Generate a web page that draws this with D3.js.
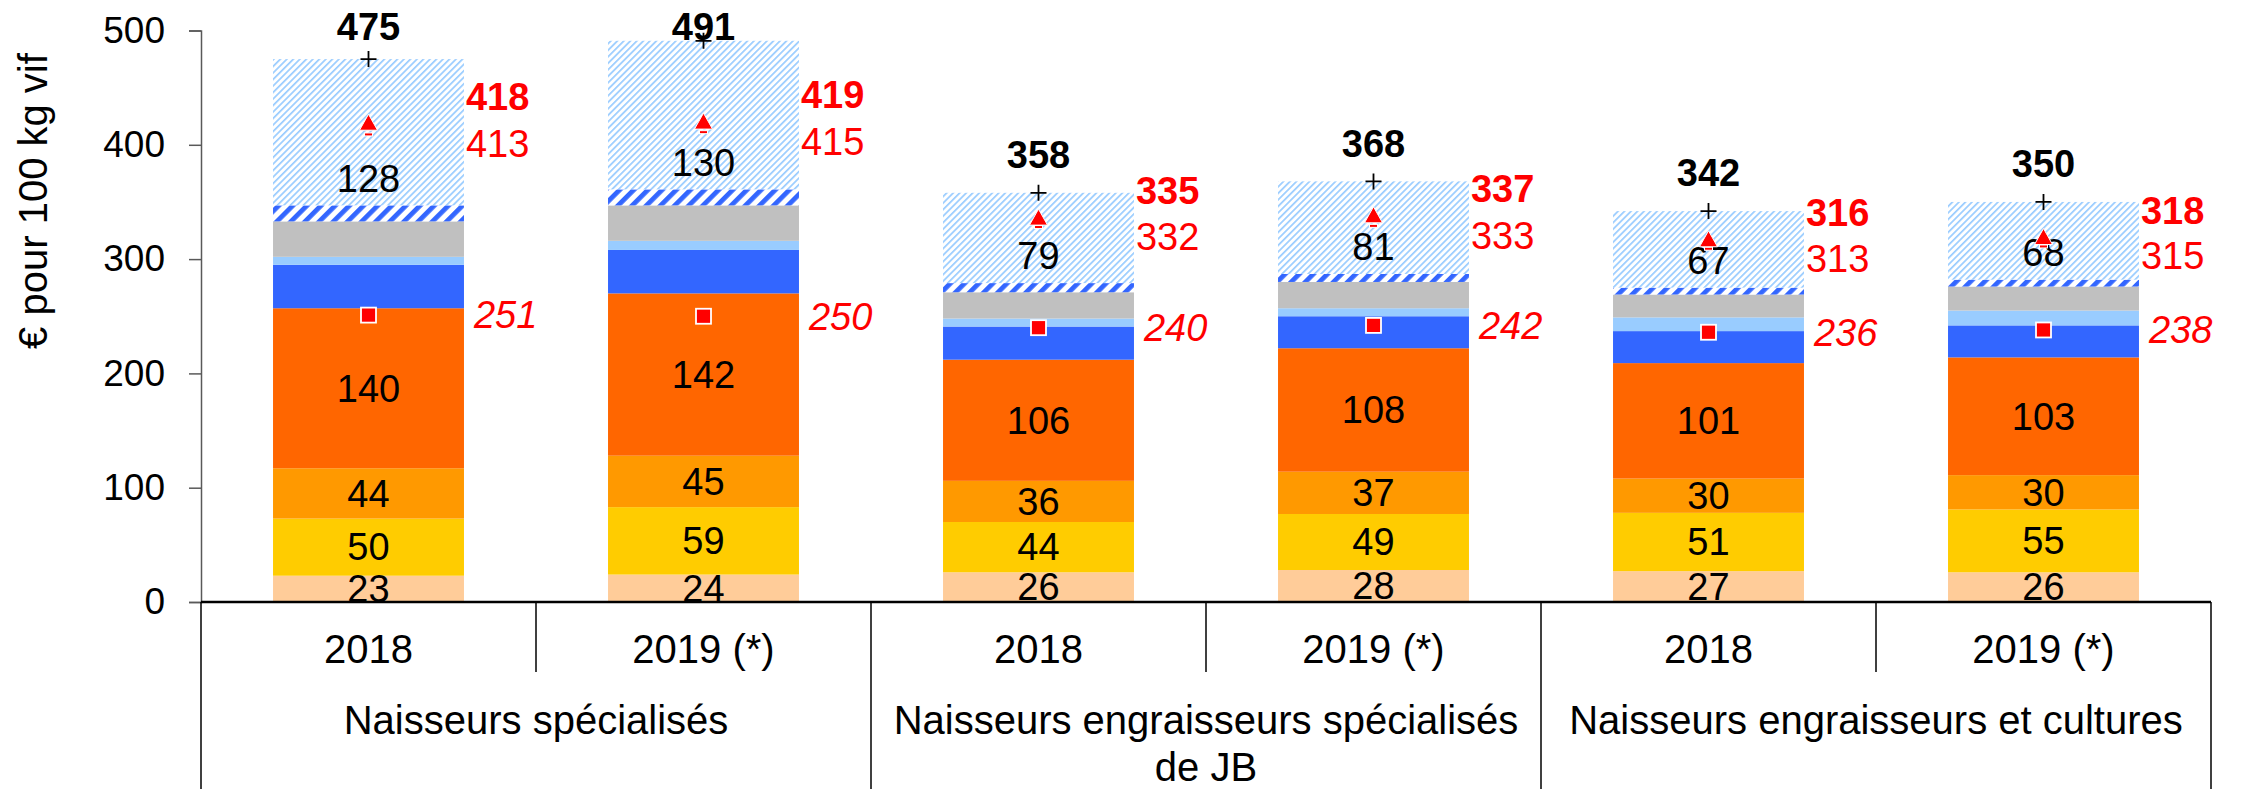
<!DOCTYPE html>
<html lang="fr">
<head>
    <meta charset="UTF-8">
    <title>Coût de production - € pour 100 kg vif</title>
    <script src="https://d3js.org/d3.v7.min.js"></script>
    <style>
        body { margin: 0; background: #fff; }
        svg text { font-family: "Liberation Sans", Arial, sans-serif; }
    </style>
</head>
<body>
    <svg id="chart" width="2251" height="789"></svg>

    <script>
        // categories
        const years = ["2018", "2019 (*)", "2018", "2019 (*)", "2018", "2019 (*)"];
        const groups = [["Naisseurs spécialisés"], ["Naisseurs engraisseurs spécialisés", "de JB"], ["Naisseurs engraisseurs et cultures"]];
        const yTicks = [0, 100, 200, 300, 400, 500];

        // stacked segments, bottom to top
        const peach = [23, 24, 26, 28, 27, 26];
        const yellow = [50, 59, 44, 49, 51, 55];
        const orange = [44, 45, 36, 37, 30, 30];
        const darkOrange = [140, 142, 106, 108, 101, 103];
        const blue = [38, 38, 29, 28, 28, 28];
        const lightBlue = [7, 8, 7, 7, 12, 13];
        const grey = [31, 31, 23, 23, 20, 21];
        const blueHatch = [14, 14, 8, 7, 6, 6];
        const lightHatch = [128, 130, 79, 81, 67, 68];

        // point series
        const totals = [475, 491, 358, 368, 342, 350];
        const triangle = [418, 419, 335, 337, 316, 318];
        const dash = [413, 415, 332, 333, 313, 315];
        const square = [251, 250, 240, 242, 236, 238];

        const svg = d3.select("#chart");
        const plotLeft = 201, plotRight = 2211, plotTop = 30.5, plotBottom = 602;

        const keys = ["peach", "yellow", "orange", "darkOrange", "blue", "lightBlue", "grey", "blueHatch", "lightHatch"];
        const labelled = ["peach", "yellow", "orange", "darkOrange", "lightHatch"];
        const rows = years.map((yr, i) => ({
            idx: i, peach: peach[i], yellow: yellow[i], orange: orange[i], darkOrange: darkOrange[i],
            blue: blue[i], lightBlue: lightBlue[i], grey: grey[i], blueHatch: blueHatch[i], lightHatch: lightHatch[i]
        }));

        const x = d3.scaleBand().domain(d3.range(years.length)).range([plotLeft, plotRight])
            .paddingInner(0.43).paddingOuter(0.215);
        const xCat = d3.scaleBand().domain(d3.range(years.length)).range([plotLeft, plotRight]);
        const y = d3.scaleLinear().domain([0, 500]).range([plotBottom, plotTop]);

        // hatch patterns
        const defs = svg.append("defs");
        const wide = defs.append("pattern").attr("id", "wideHatch")
            .attr("patternUnits", "userSpaceOnUse").attr("width", 10).attr("height", 10)
            .attr("patternTransform", "rotate(45)");
        wide.append("rect").attr("width", 10).attr("height", 10).attr("fill", "#fff");
        wide.append("rect").attr("width", 4.8).attr("height", 10).attr("fill", "#3366FF");
        const thin = defs.append("pattern").attr("id", "thinHatch")
            .attr("patternUnits", "userSpaceOnUse").attr("width", 4.6).attr("height", 4.6)
            .attr("patternTransform", "rotate(45)");
        thin.append("rect").attr("width", 4.6).attr("height", 4.6).attr("fill", "#fff");
        thin.append("rect").attr("width", 1.7).attr("height", 4.6).attr("fill", "#99CCFF");

        const color = d3.scaleOrdinal().domain(keys).range([
            "#FFCC99", "#FFCC00", "#FF9900", "#FF6600", "#3366FF", "#99CCFF", "#C0C0C0",
            "url(#wideHatch)", "url(#thinHatch)"
        ]);

        const stacked = d3.stack().keys(keys)(rows);

        // bars
        const layer = svg.append("g").selectAll("g")
            .data(stacked)
            .enter()
            .append("g")
            .attr("fill", d => color(d.key));
        layer.selectAll("rect")
            .data(d => d)
            .enter()
            .append("rect")
            .attr("x", d => x(d.data.idx))
            .attr("width", x.bandwidth())
            .attr("y", d => y(d[1]))
            .attr("height", d => y(d[0]) - y(d[1]));

        // segment labels
        const segLabels = svg.append("g").attr("font-size", 38).attr("fill", "#000").attr("text-anchor", "middle");
        stacked.filter(s => labelled.includes(s.key)).forEach(s => {
            segLabels.selectAll(null)
                .data(s)
                .enter()
                .append("text")
                .attr("x", d => x(d.data.idx) + x.bandwidth() / 2)
                .attr("y", d => s.key === "lightHatch" ? y(d[0]) - 27 : (y(d[0]) + y(d[1])) / 2)
                .attr("dy", "0.35em")
                .text(d => d[1] - d[0]);
        });

        // y axis
        const yAxis = svg.append("g")
            .attr("transform", `translate(${plotLeft},0)`)
            .call(d3.axisLeft(y).tickValues(yTicks).tickSize(12).tickPadding(24).tickFormat(d3.format("d")));
        yAxis.select(".domain").attr("stroke", "#595959").attr("stroke-width", 1.5);
        yAxis.selectAll(".tick line").attr("stroke", "#595959").attr("stroke-width", 1.5);
        yAxis.selectAll(".tick text").attr("font-size", 37).attr("fill", "#000")
            .attr("font-family", "'Liberation Sans', Arial, sans-serif");

        svg.append("text")
            .attr("transform", `translate(47,201) rotate(-90)`)
            .attr("text-anchor", "middle")
            .attr("font-size", 40)
            .text("€ pour 100 kg vif");

        // category axis drawn as a table
        const axisG = svg.append("g").attr("stroke", "#000");
        axisG.append("line").attr("x1", plotLeft).attr("x2", plotRight)
            .attr("y1", plotBottom).attr("y2", plotBottom).attr("stroke-width", 2.5);
        d3.range(years.length + 1).forEach(i => {
            const xx = i < years.length ? xCat(i) : plotRight;
            const isGroup = i % 2 === 0;
            axisG.append("line").attr("x1", xx).attr("x2", xx)
                .attr("y1", plotBottom).attr("y2", isGroup ? 789 : 672)
                .attr("stroke-width", 1.5);
        });
        svg.append("g").attr("font-size", 40).attr("text-anchor", "middle")
            .selectAll("text")
            .data(years)
            .enter()
            .append("text")
            .attr("x", (d, i) => xCat(i) + xCat.bandwidth() / 2)
            .attr("y", 663)
            .text(d => d);
        const groupG = svg.append("g").attr("font-size", 40).attr("text-anchor", "middle");
        groups.forEach((lines, g) => {
            const gx = xCat(g * 2) + xCat.bandwidth();
            lines.forEach((ln, k) => {
                groupG.append("text").attr("x", gx).attr("y", 734 + k * 47).text(ln);
            });
        });

        // markers and their labels
        const marks = svg.append("g");
        const cx = i => x(i) + x.bandwidth() / 2;
        const barRight = i => x(i) + x.bandwidth();

        // total: "+"
        marks.selectAll(".plus")
            .data(totals)
            .enter()
            .append("path")
            .attr("d", (d, i) => `M${cx(i) - 8},${y(d)}H${cx(i) + 8}M${cx(i)},${y(d) - 8}V${y(d) + 8}`)
            .attr("stroke", "#000").attr("stroke-width", 1.8);
        marks.selectAll(".totLab")
            .data(totals)
            .enter()
            .append("text")
            .attr("x", (d, i) => cx(i))
            .attr("y", d => Math.max(y(d) - 38, 27))
            .attr("dy", "0.35em")
            .attr("text-anchor", "middle")
            .attr("font-size", 38).attr("font-weight", "bold")
            .text(d => d);

        // dash + triangle
        marks.selectAll(".dash")
            .data(dash)
            .enter()
            .append("rect")
            .attr("x", (d, i) => cx(i) - 4)
            .attr("y", d => y(d) + 3)
            .attr("width", 8).attr("height", 3)
            .attr("fill", "#FF0000").attr("stroke", "#fff").attr("stroke-width", 1);
        marks.selectAll(".tri")
            .data(triangle)
            .enter()
            .append("path")
            .attr("d", (d, i) => `M${cx(i)},${y(d) - 10}L${cx(i) + 9},${y(d) + 6}L${cx(i) - 9},${y(d) + 6}Z`)
            .attr("fill", "#FF0000").attr("stroke", "#fff").attr("stroke-width", 1);
        marks.selectAll(".triLab")
            .data(triangle)
            .enter()
            .append("text")
            .attr("x", (d, i) => barRight(i) + 2)
            .attr("y", d => y(d) - 28)
            .attr("dy", "0.35em")
            .attr("font-size", 38).attr("font-weight", "bold").attr("fill", "#FF0000")
            .text(d => d);
        marks.selectAll(".dashLab")
            .data(dash)
            .enter()
            .append("text")
            .attr("x", (d, i) => barRight(i) + 2)
            .attr("y", d => y(d) + 14)
            .attr("dy", "0.35em")
            .attr("font-size", 38).attr("fill", "#FF0000")
            .text(d => d);

        // square
        marks.selectAll(".sq")
            .data(square)
            .enter()
            .append("rect")
            .attr("x", (d, i) => cx(i) - 7.5)
            .attr("y", d => y(d) - 7.5)
            .attr("width", 15).attr("height", 15)
            .attr("fill", "#FF0000").attr("stroke", "#fff").attr("stroke-width", 1.8);
        marks.selectAll(".sqLab")
            .data(square)
            .enter()
            .append("text")
            .attr("x", (d, i) => barRight(i) + 10)
            .attr("y", d => y(d))
            .attr("dy", "0.35em")
            .attr("font-size", 38).attr("font-style", "italic").attr("fill", "#FF0000")
            .text(d => d);
    </script>
</body>
</html>
